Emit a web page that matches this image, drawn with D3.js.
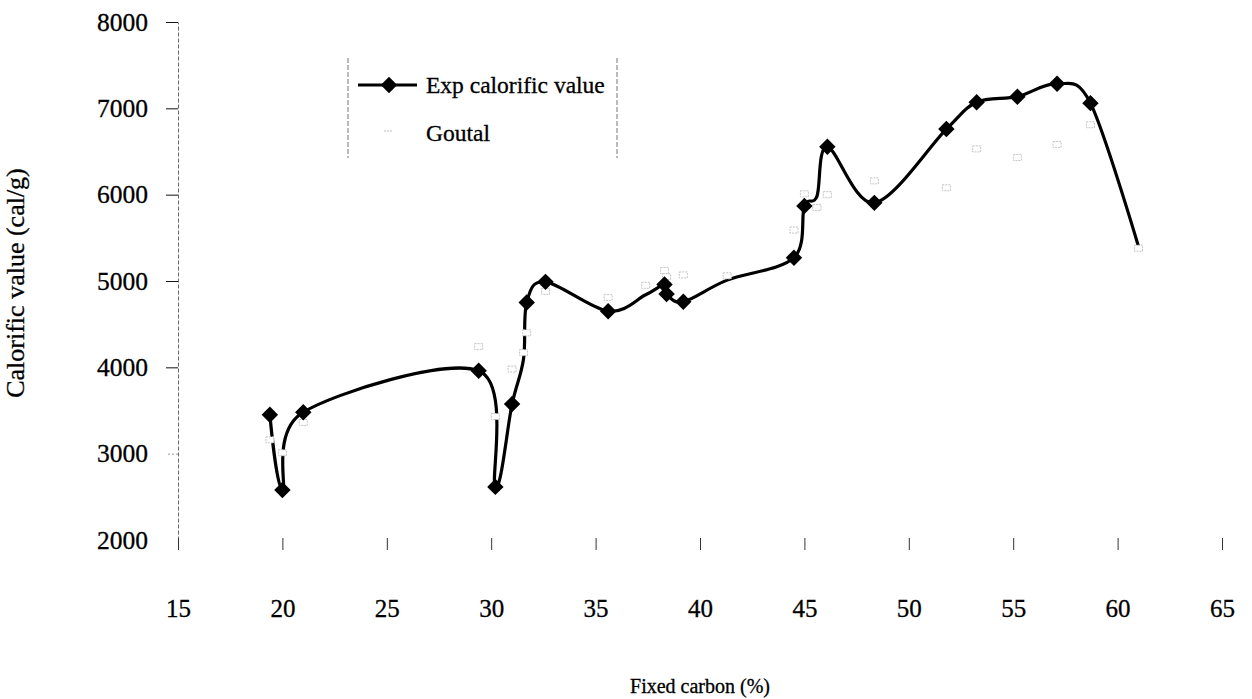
<!DOCTYPE html>
<html>
<head>
<meta charset="utf-8">
<script src="https://cdn.jsdelivr.net/npm/d3@7"></script>
<style>
  body { margin: 0; background: #fff; }
  text { font-family: "Liberation Serif", "Times New Roman", serif; fill: #000; stroke: #000; stroke-width: 0.3px; }
</style>
</head>
<body>
<svg id="chart" width="1252" height="699"></svg>
<script>
// Fixed carbon (%) and measured calorific value (cal/g)
const expCarbon = [19.4, 20.0, 21.0, 29.4, 30.2, 31.0, 31.55, 31.7, 32.6, 35.6, 37.4, 38.3, 38.4, 39.2,
                   41.3, 44.5, 45.0, 45.6, 46.1, 48.35, 51.8, 53.25, 55.2, 57.1, 58.7, 61.0];
const expValue  = [3450, 2580, 3480, 3960, 2615, 3575, 4100, 4750, 4990, 4650, 4840, 4960, 4850, 4760,
                   5010, 5270, 5870, 5980, 6555, 5905, 6760, 7070, 7135, 7285, 7060, 5400];
// samples that carry a diamond marker (some points are plotted on the curve only)
const expMarked = [true, true, true, true, true, true, false, true, true, true, false, true, true, true,
                   false, true, true, false, true, true, true, true, true, true, true, false];

// Goutal formula estimates for the same samples
const goutalCarbon = [19.4, 20.0, 21.0, 29.4, 30.2, 31.0, 31.55, 31.7, 32.6, 35.6, 37.4, 38.3, 38.4, 39.2,
                      41.3, 44.5, 45.0, 45.6, 46.1, 48.35, 51.8, 53.25, 55.2, 57.1, 58.7, 61.0];
const goutalValue  = [3160, 3010, 3360, 4240, 3430, 3980, 4170, 4400, 4880, 4810, 4950, 5120, 5050, 5070,
                      5060, 5590, 6010, 5850, 6000, 6160, 6080, 6530, 6430, 6580, 6810, 5380];

const xTicks = [15, 20, 25, 30, 35, 40, 45, 50, 55, 60, 65];
const yTicks = [2000, 3000, 4000, 5000, 6000, 7000, 8000];

const seriesNames = ["Exp calorific value", "Goutal"];

const svg = d3.select("#chart");

const x = d3.scaleLinear().domain([15, 65]).range([178, 1222]);
const y = d3.scaleLinear().domain([2000, 8000]).range([540, 22]);

// y axis
const yAxis = svg.append("g")
  .attr("transform", `translate(${x(15)},0)`)
  .call(d3.axisLeft(y).tickValues(yTicks).tickFormat(d3.format("d"))
    .tickSize(12).tickSizeOuter(0).tickPadding(18));
yAxis.select(".domain").attr("stroke", "#666").attr("stroke-dasharray", "4,2");
yAxis.selectAll(".tick line").attr("stroke", "#111");
yAxis.selectAll(".tick").filter(d => d === 2000).select("line").remove();
yAxis.selectAll(".tick").filter(d => d === 3000).select("line").attr("stroke", "#999").attr("stroke-dasharray", "2,2");
yAxis.selectAll("text").attr("font-size", 25.5).style("font-family", '"Liberation Serif", serif');

// x axis (ticks only)
const xAxis = svg.append("g")
  .attr("transform", `translate(0,${y(2000) - 2})`)
  .call(d3.axisBottom(x).tickValues(xTicks).tickFormat(d3.format("d"))
    .tickSize(12).tickSizeOuter(0).tickPadding(49));
xAxis.select(".domain").remove();
xAxis.selectAll(".tick line").attr("stroke", "#333");
xAxis.selectAll("text").attr("font-size", 25).style("font-family", '"Liberation Serif", serif');

// axis titles
svg.append("text")
  .attr("transform", `translate(24,283) rotate(-90)`)
  .attr("text-anchor", "middle")
  .attr("font-size", 26)
  .text("Calorific value (cal/g)");
svg.append("text")
  .attr("x", 700).attr("y", 693)
  .attr("text-anchor", "middle")
  .attr("font-size", 20)
  .text("Fixed carbon (%)");

// measured series: smoothed line
const expPts = expCarbon.map((c, i) => ({ c, v: expValue[i], marked: expMarked[i] }));
const line = d3.line().x(d => x(d.c)).y(d => y(d.v)).curve(d3.curveCardinal.tension(0));
svg.append("path")
  .datum(expPts)
  .attr("d", line)
  .attr("fill", "none")
  .attr("stroke", "#000")
  .attr("stroke-width", 3.2)
  .attr("stroke-linejoin", "round");

// Goutal markers (white-filled, drawn over the line)
const goutalPts = goutalCarbon.map((c, i) => ({ c, v: goutalValue[i] }));
svg.append("g").selectAll("rect")
  .data(goutalPts)
  .join("rect")
  .attr("x", d => x(d.c) - 4)
  .attr("y", d => y(d.v) - 3)
  .attr("width", 8)
  .attr("height", 6)
  .attr("fill", "#fff")
  .attr("stroke", "#c4c4c4")
  .attr("stroke-width", 1)
  .attr("stroke-dasharray", "2,1");

// measured series: diamonds
const diamond = d3.symbol().type(d3.symbolSquare).size(135);
svg.append("g").selectAll("path")
  .data(expPts.filter(d => d.marked))
  .join("path")
  .attr("d", diamond)
  .attr("transform", d => `translate(${x(d.c)},${y(d.v)}) rotate(45)`)
  .attr("fill", "#000");

// legend
const legend = svg.append("g");
legend.append("line").attr("x1", 348).attr("x2", 348).attr("y1", 58).attr("y2", 158)
  .attr("stroke", "#777").attr("stroke-dasharray", "5,2");
legend.append("line").attr("x1", 617).attr("x2", 617).attr("y1", 58).attr("y2", 158)
  .attr("stroke", "#777").attr("stroke-dasharray", "5,2");
legend.append("line").attr("x1", 358).attr("x2", 417).attr("y1", 85).attr("y2", 85)
  .attr("stroke", "#000").attr("stroke-width", 3);
legend.append("path").attr("d", diamond).attr("transform", "translate(389,85) rotate(45)").attr("fill", "#000");
legend.append("line").attr("x1", 384).attr("x2", 392).attr("y1", 131).attr("y2", 131)
  .attr("stroke", "#bbb").attr("stroke-dasharray", "2,1");
legend.append("text").attr("x", 426).attr("y", 85).attr("dy", "0.35em")
  .attr("font-size", 23.5).text(seriesNames[0]);
legend.append("text").attr("x", 426).attr("y", 133).attr("dy", "0.35em")
  .attr("font-size", 23.5).text(seriesNames[1]);
</script>
</body>
</html>
